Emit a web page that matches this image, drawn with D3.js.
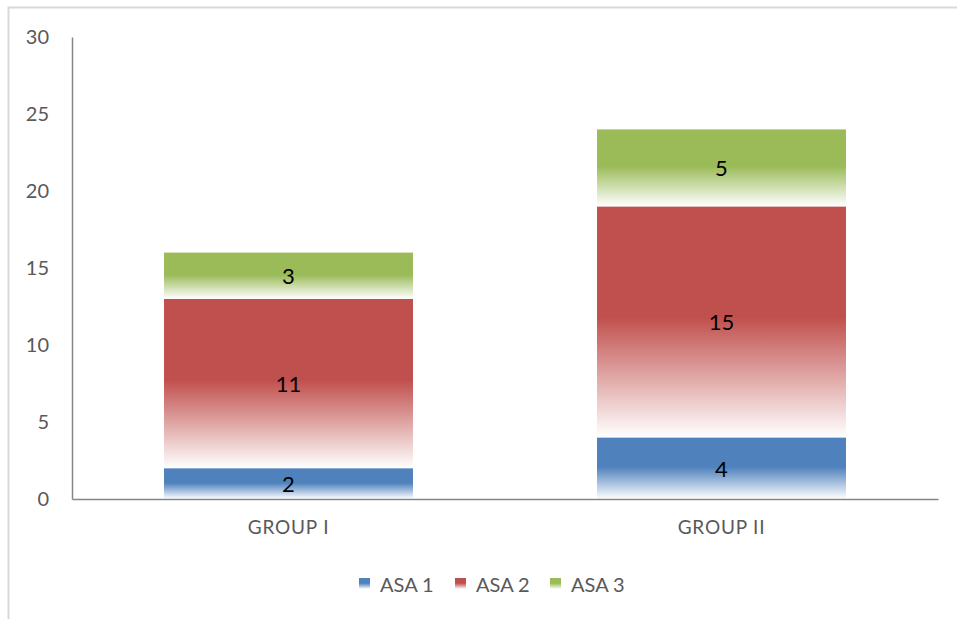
<!DOCTYPE html>
<html>
<head>
<meta charset="utf-8">
<script src="https://cdn.jsdelivr.net/npm/d3@7"></script>
<style>
  html, body { margin: 0; padding: 0; background: #fff; }
  svg { display: block; font-family: Lato, "Liberation Sans", sans-serif; }
</style>
</head>
<body>
<svg id="chart" width="957" height="619"></svg>
<script>
// Chart data
const groups = ["GROUP I", "GROUP II"];
const seriesNames = ["ASA 1", "ASA 2", "ASA 3"];
const asa1 = [2, 4];
const asa2 = [11, 15];
const asa3 = [3, 5];
const yTicks = [0, 5, 10, 15, 20, 25, 30];
const seriesColors = ["#4F81BD", "#C0504D", "#9BBB59"];

const seriesValues = [asa1, asa2, asa3];
const rows = groups.map((g, i) => {
  const r = { group: g };
  seriesNames.forEach((s, k) => { r[s] = seriesValues[k][i]; });
  return r;
});

const svg = d3.select("#chart");
const W = 957, H = 619;
const plot = { left: 72, right: 938, top: 37, bottom: 499 };

// Outer chart frame
svg.append("rect")
  .attr("x", 8.5).attr("y", 7.5)
  .attr("width", W + 20).attr("height", H + 20)
  .attr("fill", "#fff").attr("stroke", "#D9D9D9").attr("stroke-width", 2);

// Vertical gradients: solid colour over the upper half, fading to white at the base
const defs = svg.append("defs");
seriesColors.forEach((c, k) => {
  const g = defs.append("linearGradient")
    .attr("id", "grad" + k)
    .attr("x1", 0).attr("y1", 0).attr("x2", 0).attr("y2", 1);
  g.append("stop").attr("offset", "0%").attr("stop-color", c);
  g.append("stop").attr("offset", "48%").attr("stop-color", c);
  g.append("stop").attr("offset", "100%").attr("stop-color", "#ffffff");
});

const x = d3.scaleBand().domain(groups).range([plot.left, plot.right]).paddingInner(0.425).paddingOuter(0.2125);
const y = d3.scaleLinear().domain([0, 30]).range([plot.bottom, plot.top]);

const stack = d3.stack().keys(seriesNames);
const stacked = stack(rows);

// Bars
const layers = svg.append("g").selectAll("g")
  .data(stacked).join("g")
  .attr("fill", (d, k) => `url(#grad${k})`);

layers.selectAll("rect")
  .data(d => d)
  .join("rect")
  .attr("x", d => x(d.data.group))
  .attr("width", x.bandwidth())
  .attr("y", d => y(d[1]))
  .attr("height", d => y(d[0]) - y(d[1]));

// Value labels
const labels = svg.append("g");
stacked.forEach(layer => {
  layer.forEach(d => {
    labels.append("text")
      .attr("x", x(d.data.group) + x.bandwidth() / 2)
      .attr("y", (y(d[0]) + y(d[1])) / 2)
      .attr("text-anchor", "middle")
      .attr("dominant-baseline", "central")
      .attr("font-size", 22)
      .attr("fill", "#000")
      .text(d[1] - d[0]);
  });
});

// Y axis
const yAxis = svg.append("g")
  .attr("transform", `translate(${plot.left},0)`)
  .call(d3.axisLeft(y).tickValues(yTicks).tickSize(0).tickPadding(23));
yAxis.select(".domain").attr("stroke", "#868686").attr("stroke-width", 1.5);
yAxis.selectAll("text").attr("font-size", 20).attr("fill", "#595959").attr("font-family", "Lato, sans-serif");

// X axis
const xAxis = svg.append("g")
  .attr("transform", `translate(0,${plot.bottom})`)
  .call(d3.axisBottom(x).tickSize(0).tickPadding(22));
xAxis.select(".domain").attr("stroke", "#868686").attr("stroke-width", 1.5);
xAxis.selectAll("text").attr("font-size", 19).attr("letter-spacing", 0.8)
  .attr("fill", "#595959").attr("font-family", "Lato, sans-serif");

// Legend
const legendX = [359, 455, 550];
const legend = svg.append("g");
seriesNames.forEach((s, k) => {
  legend.append("rect")
    .attr("x", legendX[k]).attr("y", 578)
    .attr("width", 11).attr("height", 11)
    .attr("fill", `url(#grad${k})`);
  legend.append("text")
    .attr("x", legendX[k] + 21).attr("y", 584)
    .attr("dominant-baseline", "central")
    .attr("font-size", 20).attr("fill", "#595959")
    .text(s);
});
</script>
</body>
</html>
